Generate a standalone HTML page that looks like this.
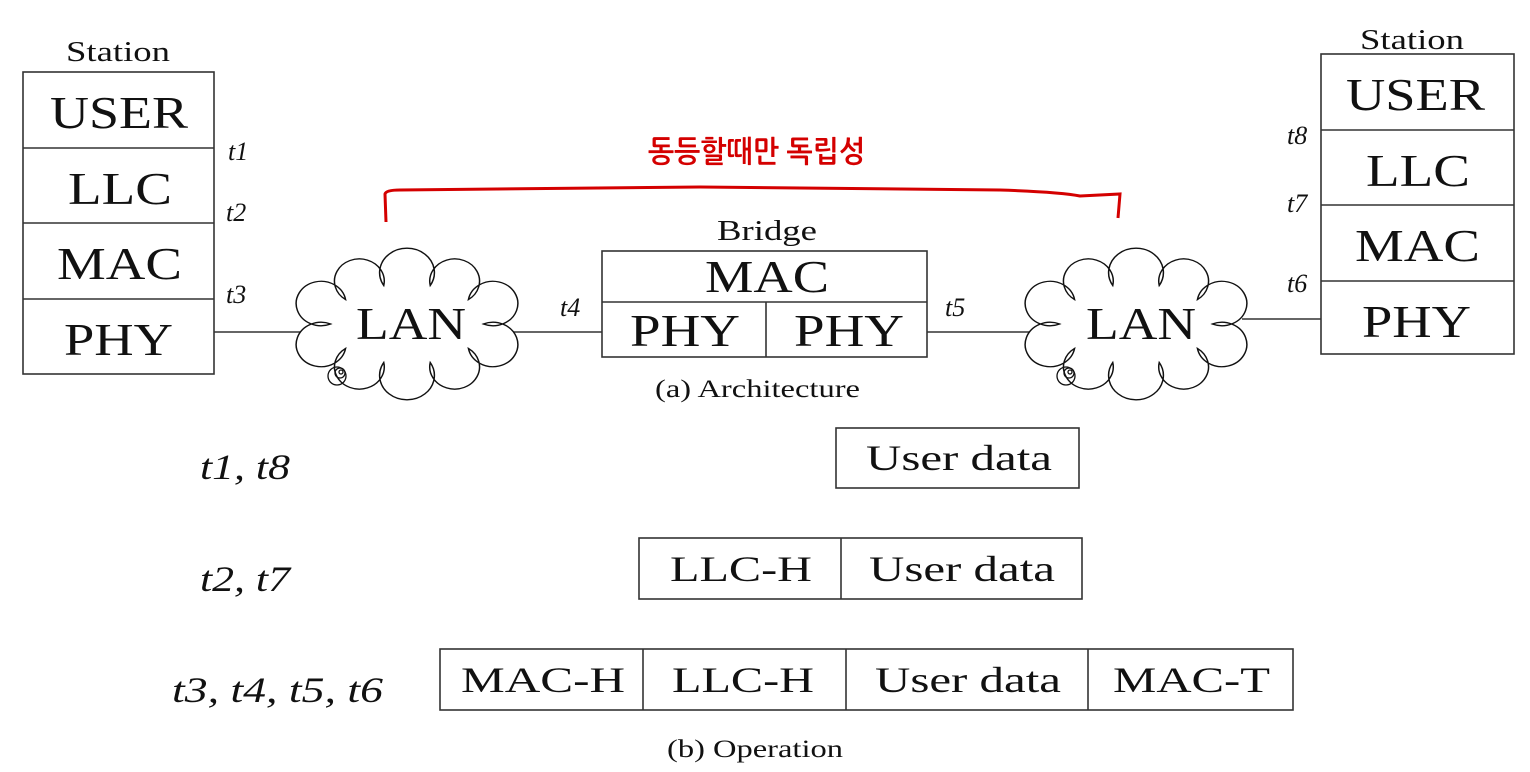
<!DOCTYPE html>
<html><head><meta charset="utf-8"><style>
html,body{margin:0;padding:0;background:#fff;}
svg{display:block;}
text{font-family:"Liberation Serif","Noto Serif CJK SC",serif;fill:#111;}
</style></head><body>
<svg width="1530" height="772" viewBox="0 0 1530 772" xmlns="http://www.w3.org/2000/svg">
<defs>
<path id="cloud" fill="#fff" stroke="#111" stroke-width="1.8" d="M92,0 A30,30 0 1 1 74,33 A30,30 0 1 1 28,52 A33,33 0 1 1 -28,52 A30,30 0 1 1 -74,33 A30,30 0 1 1 -92,0 A30,30 0 1 1 -74,-33 A30,30 0 1 1 -28,-52 A33,33 0 1 1 28,-52 A30,30 0 1 1 74,-33 A30,30 0 1 1 92,0 Z"/>
</defs>
<g stroke="#333" stroke-width="1.6" fill="none">
<rect x="23" y="72" width="191" height="302"/>
<line x1="23" y1="148" x2="214" y2="148"/>
<line x1="23" y1="223" x2="214" y2="223"/>
<line x1="23" y1="299" x2="214" y2="299"/>
<rect x="1321" y="54" width="193" height="300"/>
<line x1="1321" y1="130" x2="1514" y2="130"/>
<line x1="1321" y1="205" x2="1514" y2="205"/>
<line x1="1321" y1="281" x2="1514" y2="281"/>
<rect x="602" y="251" width="325" height="106"/>
<line x1="602" y1="302" x2="927" y2="302"/>
<line x1="766" y1="302" x2="766" y2="357"/>
<line x1="214" y1="332" x2="300" y2="332"/>
<line x1="512" y1="332" x2="602" y2="332"/>
<line x1="927" y1="332" x2="1030" y2="332"/>
<line x1="1242" y1="319" x2="1321" y2="319"/>
<rect x="836" y="428" width="243" height="60"/>
<rect x="639" y="538" width="443" height="61"/>
<line x1="841" y1="538" x2="841" y2="599"/>
<rect x="440" y="649" width="853" height="61"/>
<line x1="643" y1="649" x2="643" y2="710"/>
<line x1="846" y1="649" x2="846" y2="710"/>
<line x1="1088" y1="649" x2="1088" y2="710"/>
</g>
<use href="#cloud" transform="translate(407,324) scale(0.83,0.74)"/>
<use href="#cloud" transform="translate(1136,324) scale(0.83,0.74)"/>
<g stroke="#111" stroke-width="1.3" fill="none">
<circle cx="337" cy="376" r="9"/><circle cx="340" cy="373" r="5"/><circle cx="341" cy="372" r="2"/>
<circle cx="1066" cy="376" r="9"/><circle cx="1069" cy="373" r="5"/><circle cx="1070" cy="372" r="2"/>
</g>
<path d="M386,222 L385,194 Q386,190 400,190 L700,187 L1000,190 Q1060,192 1080,196 L1120,194 L1118,218" stroke="#d40000" stroke-width="3" fill="none"/>
<text x="648" y="162" textLength="217" lengthAdjust="spacingAndGlyphs" font-size="30" style="fill:#d40000;font-family:'NanumGothic','Noto Sans CJK KR',sans-serif;font-weight:bold">동등할때만 독립성</text>
<g font-size="28">
<text x="66" y="61" textLength="104" lengthAdjust="spacingAndGlyphs">Station</text>
<text x="1360" y="49" textLength="104" lengthAdjust="spacingAndGlyphs">Station</text>
<text x="717" y="240" textLength="100" lengthAdjust="spacingAndGlyphs">Bridge</text>
</g>
<g font-size="46">
<text x="50" y="128" textLength="138" lengthAdjust="spacingAndGlyphs">USER</text>
<text x="68" y="204" textLength="104" lengthAdjust="spacingAndGlyphs">LLC</text>
<text x="57" y="279" textLength="125" lengthAdjust="spacingAndGlyphs">MAC</text>
<text x="64" y="355" textLength="109" lengthAdjust="spacingAndGlyphs">PHY</text>
<text x="1346" y="110" textLength="139" lengthAdjust="spacingAndGlyphs">USER</text>
<text x="1366" y="186" textLength="104" lengthAdjust="spacingAndGlyphs">LLC</text>
<text x="1355" y="261" textLength="125" lengthAdjust="spacingAndGlyphs">MAC</text>
<text x="1362" y="337" textLength="109" lengthAdjust="spacingAndGlyphs">PHY</text>
<text x="705" y="292" textLength="124" lengthAdjust="spacingAndGlyphs">MAC</text>
<text x="630" y="346" textLength="110" lengthAdjust="spacingAndGlyphs">PHY</text>
<text x="794" y="346" textLength="110" lengthAdjust="spacingAndGlyphs">PHY</text>
<text x="356" y="339" textLength="110" lengthAdjust="spacingAndGlyphs">LAN</text>
<text x="1086" y="339" textLength="110" lengthAdjust="spacingAndGlyphs">LAN</text>
</g>
<g font-size="26" font-style="italic">
<text x="228" y="160">t1</text>
<text x="226" y="221">t2</text>
<text x="226" y="303">t3</text>
<text x="560" y="316">t4</text>
<text x="945" y="316">t5</text>
<text x="1287" y="144">t8</text>
<text x="1287" y="212">t7</text>
<text x="1287" y="292">t6</text>
</g>
<g font-size="36" font-style="italic">
<text x="200" y="479" textLength="90" lengthAdjust="spacingAndGlyphs">t1, t8</text>
<text x="200" y="591" textLength="90" lengthAdjust="spacingAndGlyphs">t2, t7</text>
<text x="172" y="702" textLength="211" lengthAdjust="spacingAndGlyphs">t3, t4, t5, t6</text>
</g>
<g font-size="36">
<text x="866" y="470" textLength="186" lengthAdjust="spacingAndGlyphs">User data</text>
<text x="670" y="581" textLength="142" lengthAdjust="spacingAndGlyphs">LLC-H</text>
<text x="869" y="581" textLength="186" lengthAdjust="spacingAndGlyphs">User data</text>
<text x="461" y="692" textLength="164" lengthAdjust="spacingAndGlyphs">MAC-H</text>
<text x="672" y="692" textLength="142" lengthAdjust="spacingAndGlyphs">LLC-H</text>
<text x="875" y="692" textLength="186" lengthAdjust="spacingAndGlyphs">User data</text>
<text x="1113" y="692" textLength="157" lengthAdjust="spacingAndGlyphs">MAC-T</text>
</g>
<g font-size="25">
<text x="655" y="397" textLength="205" lengthAdjust="spacingAndGlyphs">(a) Architecture</text>
<text x="667" y="757" textLength="176" lengthAdjust="spacingAndGlyphs">(b) Operation</text>
</g>
</svg>
</body></html>
